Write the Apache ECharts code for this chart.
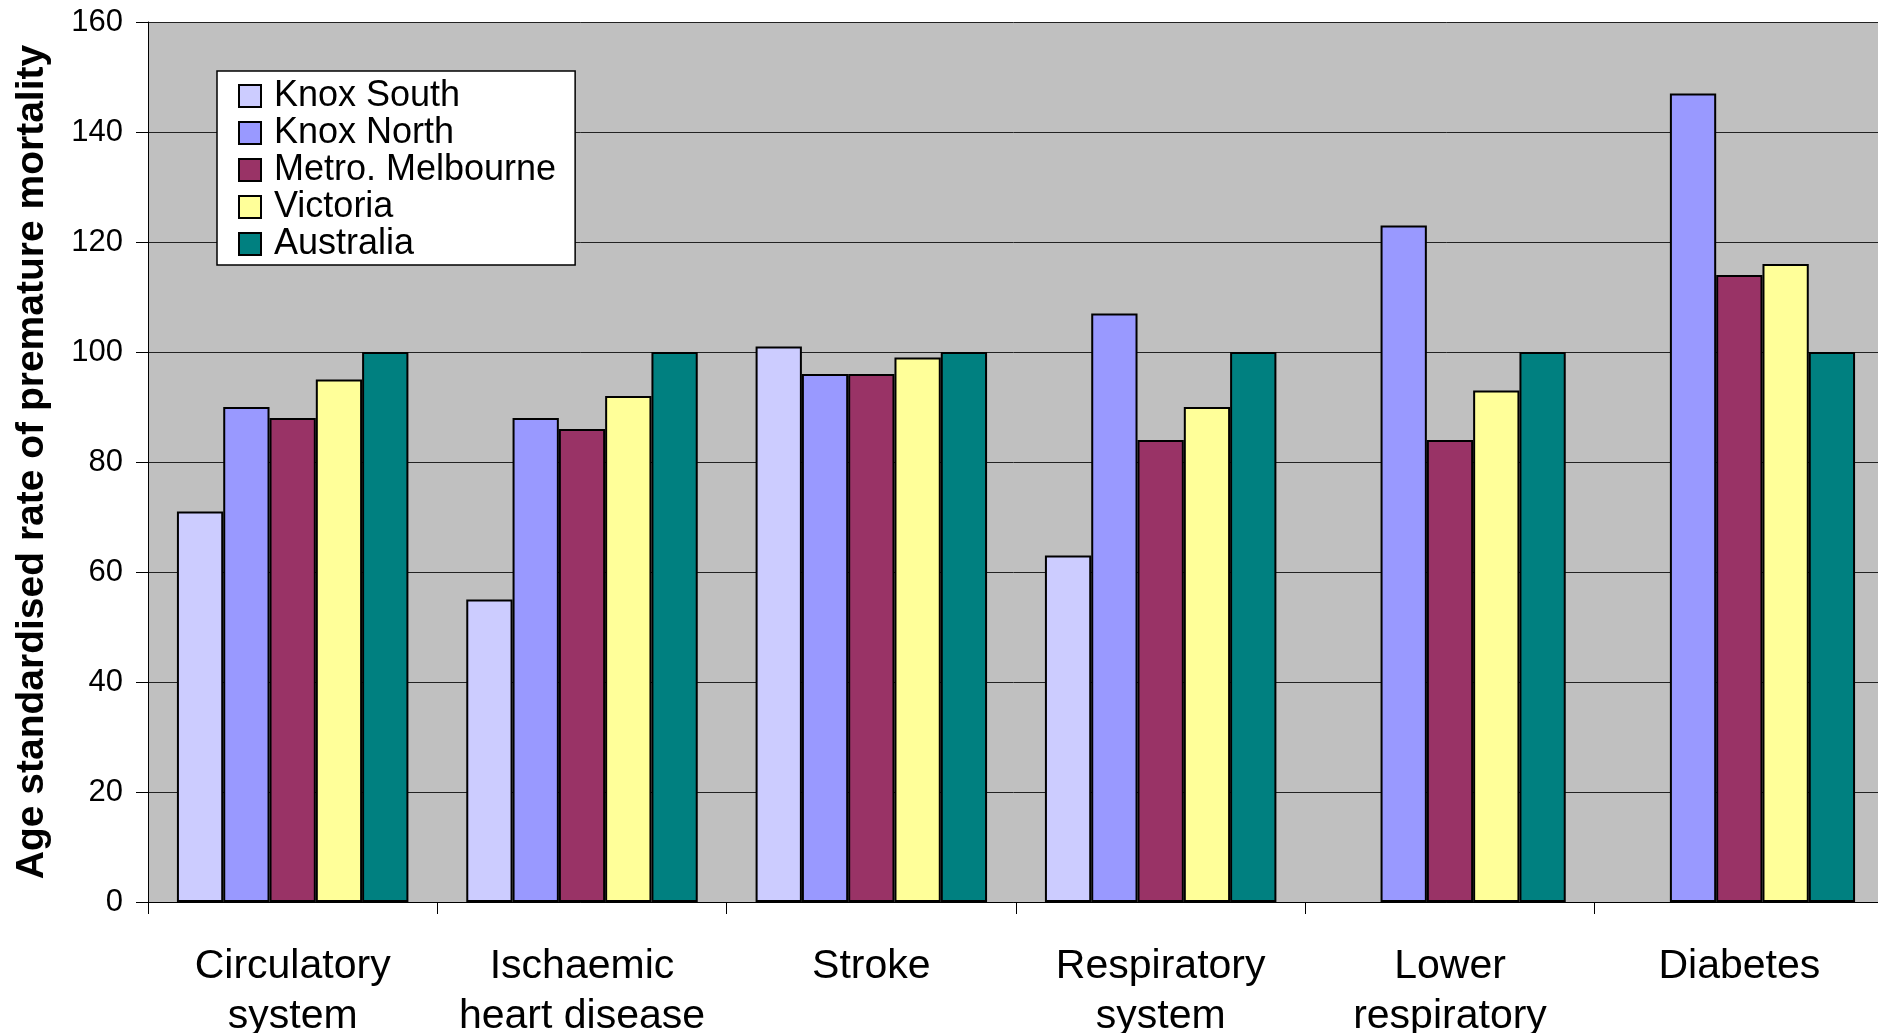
<!DOCTYPE html>
<html>
<head>
<meta charset="utf-8">
<script src="https://cdn.jsdelivr.net/npm/echarts@6/dist/echarts.min.js"></script>
<style>
html,body{margin:0;padding:0;background:#fff;}
#chart{width:1878px;height:1033px;}
</style>
</head>
<body>
<div id="chart"></div>
<script>
const categories = ["Circulatory\nsystem", "Ischaemic\nheart disease", "Stroke", "Respiratory\nsystem", "Lower\nrespiratory", "Diabetes"];
const knoxSouth = [71, 55, 101, 63, null, null];
const knoxNorth = [90, 88, 96, 107, 123, 147];
const metroMelbourne = [88, 86, 96, 84, 84, 114];
const victoria = [95, 92, 99, 90, 93, 116];
const australia = [100, 100, 100, 100, 100, 100];
const yTicks = { min: 0, max: 160, interval: 20 };

const seriesDefs = [
  { name: "Knox South", data: knoxSouth, color: "#CCCCFF" },
  { name: "Knox North", data: knoxNorth, color: "#9999FF" },
  { name: "Metro. Melbourne", data: metroMelbourne, color: "#993366" },
  { name: "Victoria", data: victoria, color: "#FFFF99" },
  { name: "Australia", data: australia, color: "#008080" }
];

const FONT = "'Liberation Sans', Arial, sans-serif";
const chart = echarts.init(document.getElementById('chart'), null, { renderer: 'canvas' });
chart.setOption({
  animation: false,
  backgroundColor: '#ffffff',
  textStyle: { fontFamily: FONT, color: '#000' },
  grid: {
    left: 148, top: 22, width: 1736, height: 880,
    containLabel: false,
    outerBoundsMode: 'none',
    show: true, backgroundColor: '#C0C0C0', borderWidth: 0
  },
  legend: {
    orient: 'vertical',
    left: 217, top: 71,
    padding: [7, 19, 3, 21],
    backgroundColor: '#ffffff',
    borderColor: '#000', borderWidth: 1.5,
    itemWidth: 22, itemHeight: 22, itemGap: 1,
    icon: 'rect',
    itemStyle: { borderColor: '#000', borderWidth: 2 },
    textStyle: { fontFamily: FONT, fontSize: 36, color: '#000', lineHeight: 36, padding: [0, 0, 0, 8] },
    data: seriesDefs.map(s => s.name)
  },
  xAxis: {
    type: 'category',
    data: categories,
    axisLine: { show: true, lineStyle: { color: '#000', width: 1 } },
    axisTick: { show: true, length: 12, lineStyle: { color: '#000' } },
    axisLabel: { fontFamily: FONT, fontSize: 41, lineHeight: 50, color: '#000', margin: 40, interval: 0 },
    splitLine: { show: false }
  },
  yAxis: {
    type: 'value',
    min: yTicks.min, max: yTicks.max, interval: yTicks.interval,
    name: 'Age standardised rate of premature mortality',
    nameLocation: 'middle',
    nameGap: 96,
    nameTextStyle: { fontFamily: FONT, fontSize: 39, fontWeight: 'bold', color: '#000' },
    axisLine: { show: true, lineStyle: { color: '#000', width: 1 } },
    axisTick: { show: true, length: 12, lineStyle: { color: '#000' } },
    axisLabel: { fontFamily: FONT, fontSize: 31, color: '#000', margin: 25 },
    splitLine: { show: true, lineStyle: { color: '#222', width: 1 } }
  },
  series: seriesDefs.map(s => ({
    name: s.name,
    type: 'bar',
    data: s.data,
    barGap: '0%',
    barCategoryGap: '20%',
    itemStyle: { color: s.color, borderColor: '#000', borderWidth: 2 }
  }))
});
</script>
</body>
</html>
